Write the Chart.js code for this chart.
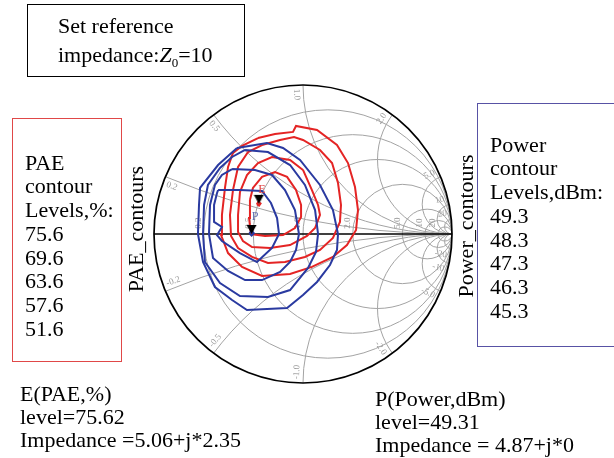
<!DOCTYPE html>
<html><head><meta charset="utf-8">
<script src="https://cdn.jsdelivr.net/npm/chart.js@4.4.1/dist/chart.umd.min.js"></script>
<style>
html,body{margin:0;padding:0;background:#fff;overflow:hidden}
#wrap{position:relative;width:614px;height:458px;overflow:hidden;font-family:"Liberation Serif","Times New Roman",serif;color:#000}
canvas{position:absolute;left:0;top:0}
.box{position:absolute;box-sizing:border-box}
.t{position:absolute;font-size:22px;line-height:22px;white-space:nowrap}
.blk{position:absolute;font-size:22px;line-height:23.7px;white-space:nowrap}
.rot{position:absolute;font-size:22px;line-height:22px;white-space:nowrap;text-align:center;transform:rotate(-90deg)}
</style></head><body>
<div id="wrap">
<canvas id="c" width="614" height="458"></canvas>
<div class="box" style="left:27px;top:4px;width:218px;height:73px;border:1.5px solid #000"></div>
<div class="t" style="left:58px;top:14.6px">Set reference</div>
<div class="t" style="left:58px;top:43.6px">impedance:<i>Z</i><span style="font-size:13px;position:relative;top:5px">0</span>=10</div>

<div class="box" style="left:12px;top:118px;width:110px;height:244px;border:1.5px solid rgb(224,72,72)"></div>
<div class="blk" style="left:25px;top:150.7px">PAE<br>contour<br>Levels,%:<br><span id="paeList"></span></div>

<div class="box" style="left:477px;top:103px;width:150px;height:244px;border:1.5px solid rgb(88,82,165)"></div>
<div class="blk" style="left:490px;top:132.7px">Power<br>contour<br>Levels,dBm:<br><span id="powList"></span></div>

<div class="rot" style="left:65.6px;top:218px;width:140px">PAE_contours</div>
<div class="rot" style="left:390.6px;top:215px;width:150px">Power_contours</div>

<div class="t" style="left:20px;top:382.6px">E(PAE,%)</div>
<div class="t" style="left:20px;top:405.6px">level=75.62</div>
<div class="t" style="left:20px;top:428.6px">Impedance =5.06+j*2.35</div>
<div class="t" style="left:375px;top:387.6px">P(Power,dBm)</div>
<div class="t" style="left:375px;top:410.6px">level=49.31</div>
<div class="t" style="left:375px;top:433.6px">Impedance = 4.87+j*0</div>
</div>
<script>
// ---------- data (reflection coefficient Γ = re, im) ----------
const Z0 = 10;
const paeLevels = [75.6, 69.6, 63.6, 57.6, 51.6];
const powerLevels = [49.3, 48.3, 47.3, 46.3, 45.3];
const paeOpt = [5.06, 2.35];   // impedance, ohm
const powOpt = [4.87, 0];
const paeOptLevel = 75.62;
const powOptLevel = 49.31;

const pae756 = [[-0.31,0.20],[-0.30,0.215],[-0.285,0.205],[-0.295,0.19]];
const pae696 = [[-0.356,0.228],[-0.336,0.309],[-0.275,0.383],[-0.188,0.416],[-0.107,0.383],[-0.047,0.295],[-0.013,0.195],[-0.013,0.114],[-0.054,0.040],[-0.134,-0.007],[-0.255,-0.013],[-0.349,0.0],[-0.362,0.107]];
const pae636 = [[0.0,0.430],[0.060,0.295],[0.101,0.195],[0.114,0.128],[0.081,0.040],[0.027,-0.013],[-0.087,-0.074],[-0.221,-0.094],[-0.342,-0.087],[-0.403,-0.047],[-0.436,0.013],[-0.436,0.128],[-0.423,0.282],[-0.376,0.396],[-0.302,0.476],[-0.208,0.517],[-0.087,0.497]];
const pae576 = [[-0.275,0.597],[-0.154,0.631],[-0.060,0.651],[0.0,0.631],[0.114,0.564],[0.195,0.476],[0.235,0.342],[0.255,0.195],[0.248,0.081],[0.201,-0.027],[0.114,-0.107],[0.013,-0.154],[-0.121,-0.188],[-0.235,-0.195],[-0.342,-0.154],[-0.436,-0.094],[-0.483,-0.013],[-0.490,0.128],[-0.470,0.295],[-0.436,0.450],[-0.369,0.550]];
const pae516 = [[-0.302,0.644],[-0.188,0.671],[-0.067,0.685],[-0.047,0.725],[0.094,0.698],[0.228,0.597],[0.302,0.476],[0.349,0.315],[0.369,0.161],[0.356,0.027],[0.295,-0.074],[0.201,-0.154],[0.060,-0.221],[-0.087,-0.268],[-0.275,-0.282],[-0.409,-0.221],[-0.503,-0.128],[-0.550,-0.007],[-0.544,0.128],[-0.523,0.315],[-0.503,0.450],[-0.470,0.544],[-0.409,0.591]];

const pow493 = [[-0.36,0.005],[-0.345,0.02],[-0.33,0.005],[-0.345,-0.01]];
const pow483 = [[-0.570,0.295],[-0.423,0.295],[-0.275,0.289],[-0.215,0.208],[-0.174,0.107],[-0.161,0.0],[-0.208,-0.094],[-0.309,-0.188],[-0.423,-0.128],[-0.544,-0.047],[-0.577,-0.007],[-0.544,0.047],[-0.597,0.081],[-0.597,0.195],[-0.577,0.275]];
const pow473 = [[-0.476,0.436],[-0.322,0.430],[-0.208,0.396],[-0.121,0.295],[-0.054,0.161],[-0.027,0.0],[-0.047,-0.107],[-0.087,-0.188],[-0.154,-0.255],[-0.275,-0.309],[-0.389,-0.309],[-0.503,-0.248],[-0.604,-0.161],[-0.631,0.0],[-0.624,0.195],[-0.591,0.329],[-0.544,0.396]];
const pow463 = [[-0.389,0.564],[-0.235,0.550],[-0.087,0.463],[0.013,0.329],[0.081,0.161],[0.101,0.0],[0.087,-0.121],[0.034,-0.228],[-0.087,-0.376],[-0.235,-0.423],[-0.423,-0.416],[-0.557,-0.329],[-0.658,-0.188],[-0.671,0.0],[-0.664,0.195],[-0.638,0.329],[-0.557,0.443],[-0.476,0.517]];
const pow453 = [[-0.443,0.577],[-0.242,0.611],[-0.134,0.577],[-0.020,0.497],[0.114,0.329],[0.201,0.161],[0.235,0.0],[0.228,-0.107],[0.181,-0.208],[0.094,-0.322],[0.0,-0.409],[-0.107,-0.497],[-0.376,-0.510],[-0.476,-0.443],[-0.591,-0.356],[-0.671,-0.188],[-0.705,0.0],[-0.698,0.195],[-0.691,0.309],[-0.570,0.463]];

// Smith chart grid values and their tick labels
const rCircles = [0.2, 0.5, 1, 2, 5, 10, 20];
const rTickLabels = ['0.2', '0.5', '1.0', '2.0', '5.0', '10', '20'];
const xArcs = [0.2, 0.5, 1, 2, 5, 10, 20, -0.2, -0.5, -1, -2, -5, -10, -20];
const xTickLabels = ['0.2', '0.5', '1.0', '2.0', '5.0', '10', '20', '-0.2', '-0.5', '-1.0', '-2.0', '-5.0', '-10', '-20'];

document.getElementById('paeList').innerHTML = paeLevels.map(v => v.toFixed(1)).join('<br>');
document.getElementById('powList').innerHTML = powerLevels.map(v => v.toFixed(1)).join('<br>');

// ---------- helpers ----------
function gamma(re, im) {
  const zr = re / Z0, zi = im / Z0;
  const nr = zr - 1, ni = zi, dr = zr + 1, di = zi;
  const den = dr * dr + di * di;
  return { x: (nr * dr + ni * di) / den, y: (ni * dr - nr * di) / den };
}
const closed = arr => arr.concat([arr[0]]).map(p => ({ x: p[0], y: p[1] }));
function makeTri() {
  const c = document.createElement('canvas'); c.width = 11; c.height = 20;
  const g = c.getContext('2d'); g.fillStyle = '#000';
  g.beginPath(); g.moveTo(0.5, 1); g.lineTo(10.5, 1); g.lineTo(5.5, 10); g.closePath(); g.fill();
  return c;
}
const tri = makeTri();
const gE = gamma(paeOpt[0], paeOpt[1]);
const gP = gamma(powOpt[0], powOpt[1]);

const RED = 'rgb(228,36,36)', BLUE = 'rgb(42,58,160)';
const paeSets = [pae756, pae696, pae636, pae576, pae516];
const powSets = [pow493, pow483, pow473, pow463, pow453];
const lineDs = (arr, col, lbl) => ({ label: lbl, data: closed(arr), showLine: true, borderColor: col, borderWidth: 2, pointRadius: 0, fill: false, tension: 0 });

const datasets = [
  { label: 'markers', data: [gE, gP], pointStyle: tri, pointRadius: 5, showLine: false }
].concat(
  powSets.map((a, i) => lineDs(a, BLUE, 'Power ' + powerLevels[i])),
  paeSets.map((a, i) => lineDs(a, RED, 'PAE ' + paeLevels[i]))
);

const smithGrid = {
  id: 'smithGrid',
  beforeDatasetsDraw(chart) {
    const ctx = chart.ctx, sx = chart.scales.x, sy = chart.scales.y;
    const px = v => sx.getPixelForValue(v), py = v => sy.getPixelForValue(v);
    const cx = px(0), cy = py(0), R = px(1) - cx;
    ctx.save();
    ctx.beginPath(); ctx.arc(cx, cy, R, 0, 2 * Math.PI); ctx.clip();
    ctx.strokeStyle = '#a3a3a3'; ctx.lineWidth = 1;
    rCircles.forEach(r => { ctx.beginPath(); ctx.arc(px(r / (1 + r)), cy, R / (1 + r), 0, 2 * Math.PI); ctx.stroke(); });
    xArcs.forEach(x => { ctx.beginPath(); ctx.arc(px(1), py(1 / x), R / Math.abs(x), 0, 2 * Math.PI); ctx.stroke(); });
    ctx.fillStyle = '#9a9a9a'; ctx.font = '9px "Liberation Serif", serif';
    rCircles.forEach((r, i) => {
      const g = (r - 1) / (r + 1);
      ctx.save(); ctx.translate(px(g) - 5, cy - 11); ctx.rotate(-Math.PI / 2);
      ctx.textAlign = 'center'; ctx.textBaseline = 'middle';
      ctx.fillText(rTickLabels[i], 0, 0); ctx.restore();
    });
    xArcs.forEach((x, i) => {
      const d = 1 + x * x, gr = (x * x - 1) / d, gi = 2 * x / d;
      let th = Math.atan2(gi, gr) + (gi >= 0 ? 1 : -1) * 0.045;
      const rr = 0.975;
      ctx.save(); ctx.translate(px(rr * Math.cos(th)), py(rr * Math.sin(th)));
      let a = -th + Math.PI;
      ctx.textBaseline = 'middle'; ctx.textAlign = 'left';
      if (Math.cos(a) < -0.01) { a += Math.PI; ctx.textAlign = 'right'; }
      ctx.rotate(a);
      ctx.fillText(xTickLabels[i], 0, 0); ctx.restore();
    });
    ctx.restore();
    ctx.save(); ctx.strokeStyle = '#000'; ctx.lineWidth = 1.7;
    ctx.beginPath(); ctx.arc(cx, cy, R, 0, 2 * Math.PI); ctx.stroke();
    ctx.beginPath(); ctx.moveTo(px(-1), cy); ctx.lineTo(px(1), cy); ctx.stroke();
    ctx.restore();
  },
  afterDatasetsDraw(chart) {
    const ctx = chart.ctx, sx = chart.scales.x, sy = chart.scales.y;
    ctx.save(); ctx.font = '12px "Liberation Serif", serif'; ctx.textAlign = 'center'; ctx.textBaseline = 'middle';
    ctx.fillStyle = 'rgb(225,60,60)'; ctx.fillText('E', sx.getPixelForValue(gE.x) + 3, sy.getPixelForValue(gE.y) - 14);
    ctx.fillStyle = 'rgb(95,110,175)'; ctx.fillText('P', sx.getPixelForValue(gP.x) + 3.5, sy.getPixelForValue(gP.y) - 17);
    ctx.restore();
  }
};

new Chart(document.getElementById('c'), {
  type: 'scatter',
  data: { datasets },
  options: {
    responsive: false, animation: false,
    layout: { autoPadding: false, padding: { left: 154, right: 162, top: 85, bottom: 75 } },
    scales: { x: { type: 'linear', min: -1, max: 1, display: false }, y: { type: 'linear', min: -1, max: 1, display: false } },
    plugins: { legend: { display: false }, tooltip: { enabled: false } }
  },
  plugins: [smithGrid]
});
</script>
</body></html>
